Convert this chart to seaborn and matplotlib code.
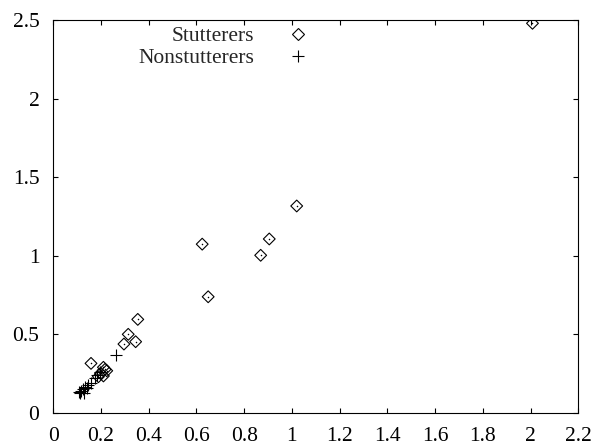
import matplotlib
matplotlib.use("Agg")
import matplotlib.pyplot as plt
import seaborn as sns
import pandas as pd
from matplotlib.lines import Line2D
from matplotlib.ticker import FuncFormatter, MultipleLocator

# Data
stut_x = [2.008, 1.020, 0.905, 0.869, 0.624, 0.649, 0.354, 0.314, 0.296, 0.345,
          0.158, 0.210, 0.224, 0.198, 0.189, 0.210, 0.217]
stut_y = [2.479, 1.316, 1.106, 1.002, 1.073, 0.738, 0.594, 0.499, 0.437, 0.452,
          0.314, 0.289, 0.267, 0.251, 0.229, 0.234, 0.276]
non_x = [0.263, 0.185, 0.175, 0.160, 0.147, 0.133, 0.123, 0.109, 0.117, 0.128,
         0.110, 0.140, 0.195]
non_y = [0.367, 0.240, 0.219, 0.191, 0.176, 0.162, 0.149, 0.134, 0.140, 0.128,
         0.125, 0.155, 0.262]
labels = ["Stutterers", "Nonstutterers"]

sns.set_style("ticks")
plt.rcParams["font.family"] = ["Liberation Serif", "DejaVu Serif"]

FS = 15.5

df_s = pd.DataFrame({"x": stut_x, "y": stut_y})
df_n = pd.DataFrame({"x": non_x, "y": non_y})

fig = plt.figure(figsize=(5.95, 4.45), dpi=100)
ax = fig.add_axes([53.3 / 595, 32.3 / 445, (578.3 - 53.3) / 595, (412.7 - 20) / 445])

DMS = 6.0   # diamond marker size (pt)
PMS = 8.6   # plus marker size (pt)
sns.scatterplot(data=df_s, x="x", y="y", ax=ax, marker="D", s=DMS ** 2,
                facecolors="none", edgecolor="black", linewidth=0.8, zorder=3)
sns.scatterplot(data=df_s, x="x", y="y", ax=ax, marker="o", s=1.2,
                color="black", linewidth=0, zorder=3)
sns.scatterplot(data=df_n, x="x", y="y", ax=ax, marker="+", s=PMS ** 2,
                color="black", linewidth=0.8, zorder=3)

ax.set_xlim(0, 2.2)
ax.set_ylim(0, 2.5)
ax.xaxis.set_major_locator(MultipleLocator(0.2))
ax.yaxis.set_major_locator(MultipleLocator(0.5))
fmt = FuncFormatter(lambda v, p: f"{v:.1f}".rstrip("0").rstrip(".") if abs(v) > 1e-9 else "0")
ax.xaxis.set_major_formatter(fmt)
ax.yaxis.set_major_formatter(fmt)
ax.tick_params(direction="in", length=3.5, width=0.8, top=True, right=True,
               labelsize=FS, colors="black")
ax.tick_params(axis="x", pad=10)
ax.tick_params(axis="y", pad=10)
for sp in ax.spines.values():
    sp.set_visible(True)
    sp.set_linewidth(0.8)
    sp.set_color("black")
ax.set_xlabel("")
ax.set_ylabel("")

h1 = Line2D([], [], marker="D", linestyle="none", markerfacecolor="none",
            markeredgecolor="black", markersize=DMS, markeredgewidth=0.8)
h2 = Line2D([], [], marker="+", linestyle="none", color="black",
            markersize=PMS, markeredgewidth=0.8)
fs_px = FS * 100 / 72
hl = 0.8
x_anchor = (298 + hl * fs_px / 2 - 53.3) / 525
htp = (298 - hl * fs_px / 2 - 254) / fs_px
rows = [(412.7 - 36) / 392.7, (412.7 - 58) / 392.7]
common = dict(frameon=False, markerfirst=False, fontsize=FS, handlelength=hl,
              handletextpad=htp, borderpad=0, borderaxespad=0, loc="center right")
leg1 = ax.legend([h1], [labels[0]], bbox_to_anchor=(x_anchor, rows[0]), **common)
ax.add_artist(leg1)
leg2 = ax.legend([h2], [labels[1]], bbox_to_anchor=(x_anchor, rows[1]), **common)

fig.savefig("out.png", dpi=100)
